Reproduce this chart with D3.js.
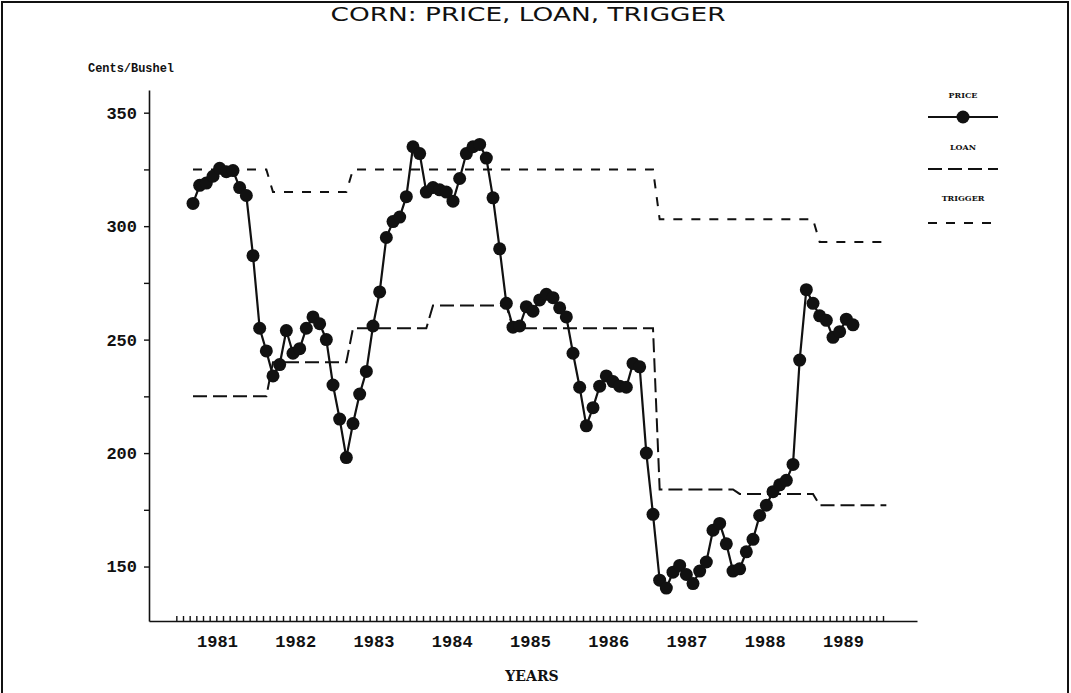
<!DOCTYPE html>
<html>
<head>
<meta charset="utf-8">
<script src="https://cdn.jsdelivr.net/npm/d3@7"></script>
<style>
  body { margin: 0; background: #fff; }
  svg { display: block; }
</style>
</head>
<body>
<div id="chart"></div>
<script>
// monthly corn price, cents/bushel, first value is Nov 1980 (month -2 from Jan 1981)
var priceStart = -2;
var price = [310, 318, 319, 322, 325.5, 324, 324.5, 317, 313.5, 287,
             255, 245, 234, 239, 254, 244, 246, 255, 260, 257,
             250, 230, 215, 198, 213, 226, 236, 256, 271, 295,
             302, 304, 313, 335, 332, 315, 317, 316, 315, 311,
             321, 332, 335, 336, 330, 312.5, 290, 266, 255.5, 256,
             264.5, 262.5, 267.5, 270, 268.5, 264, 260, 244, 229, 212,
             220, 229.5, 234, 231.5, 229.5, 229, 239.5, 238, 200, 173,
             144, 140.5, 147.5, 150.5, 146.5, 142.5, 148, 152, 166, 169,
             160, 148, 149, 156.5, 162, 172.5, 177, 183, 186, 188,
             195, 241, 272, 266, 260.5, 258.5, 251, 253.5, 259, 256.5];

// loan rate steps (month the level starts, level)
var loanFrom = [-2, 10, 22, 34, 46, 68, 80, 92];
var loanLevel = [225, 240, 255, 265, 255, 184, 182, 177];

// trigger price steps
var triggerFrom = [-2, 10, 22, 68, 92];
var triggerLevel = [325, 315, 325, 303, 293];

var lastMonth = 102;

var years = [1981, 1982, 1983, 1984, 1985, 1986, 1987, 1988, 1989];
var yTicks = [150, 175, 200, 225, 250, 275, 300, 325, 350];

var svgWidth = 1071;
var svgHeight = 693;

var svg = d3.select("#chart")
  .append("svg")
  .attr("width", svgWidth)
  .attr("height", svgHeight);

// scanned page border
svg.append("rect")
  .attr("x", 2)
  .attr("y", 2)
  .attr("width", 1066)
  .attr("height", 720)
  .attr("fill", "none")
  .attr("stroke", "#111")
  .attr("stroke-width", 2);

// scales
var xScale = d3.scaleLinear()
  .domain([-8.6, 106.6])
  .range([149, 917]);

var yScale = d3.scaleLinear()
  .domain([126, 360])
  .range([621, 90]);

// year labels sit on their own scale (the printer spaced them a bit tighter)
var yearScale = d3.scaleLinear()
  .domain([1981, 1989])
  .range([xScale(1.6), xScale(95.5)]);

// title
svg.append("text")
  .attr("x", 528)
  .attr("y", 21)
  .attr("text-anchor", "middle")
  .attr("font-family", "DejaVu Sans")
  .attr("font-size", "20px")
  .attr("textLength", 395)
  .attr("lengthAdjust", "spacingAndGlyphs")
  .attr("fill", "#111")
  .text("CORN: PRICE, LOAN, TRIGGER");

svg.append("text")
  .attr("x", 88)
  .attr("y", 72)
  .attr("font-family", "Liberation Mono")
  .attr("font-weight", "bold")
  .attr("font-size", "13px")
  .attr("textLength", 86)
  .attr("lengthAdjust", "spacingAndGlyphs")
  .attr("fill", "#111")
  .text("Cents/Bushel");

// y axis
var leftAxis = d3.axisLeft(yScale)
  .tickValues(yTicks)
  .tickSize(5)
  .tickSizeOuter(0)
  .tickPadding(7)
  .tickFormat(d => d % 50 === 0 ? d : "");

var yAxisG = svg.append("g")
  .attr("transform", "translate(149, 0)")
  .call(leftAxis);

yAxisG.selectAll("text")
  .attr("font-family", "Liberation Mono")
  .attr("font-weight", "bold")
  .attr("font-size", "17px")
  .attr("fill", "#111");

// x axis with monthly ticks pointing up
var monthTicks = d3.range(-4.5, 102, 1);
var bottomAxis = d3.axisBottom(xScale)
  .tickValues(monthTicks)
  .tickSize(-5)
  .tickSizeOuter(0)
  .tickFormat("");

svg.append("g")
  .attr("transform", `translate(0, ${yScale(126)})`)
  .call(bottomAxis);

svg.selectAll(".domain").attr("stroke", "#111").attr("stroke-width", 1.6);
svg.selectAll(".tick line").attr("stroke", "#111").attr("stroke-width", 1.4);

// year labels
var yearAxis = d3.axisBottom(yearScale)
  .tickValues(years)
  .tickSize(0)
  .tickPadding(14)
  .tickFormat(d3.format("d"));

var yearG = svg.append("g")
  .attr("transform", `translate(0, ${yScale(126)})`)
  .call(yearAxis);

yearG.select(".domain").remove();
yearG.selectAll("text")
  .attr("font-family", "Liberation Mono")
  .attr("font-weight", "bold")
  .attr("font-size", "17px")
  .attr("fill", "#111");

svg.append("text")
  .attr("x", 532)
  .attr("y", 681)
  .attr("text-anchor", "middle")
  .attr("font-family", "DejaVu Serif")
  .attr("font-weight", "bold")
  .attr("font-size", "14px")
  .attr("fill", "#111")
  .text("YEARS");

// step series -> corner points
function stepPoints(from, level) {
  var pts = [];
  for (var i = 0; i < from.length; i++) {
    var end = i < from.length - 1 ? from[i + 1] - 1 : lastMonth;
    pts.push([from[i], level[i]]);
    pts.push([end, level[i]]);
  }
  return pts;
}

var lineGen = d3.line()
  .x(d => xScale(d[0]))
  .y(d => yScale(d[1]));

svg.append("path")
  .datum(stepPoints(triggerFrom, triggerLevel))
  .attr("d", lineGen)
  .attr("fill", "none")
  .attr("stroke", "#111")
  .attr("stroke-width", 2)
  .attr("stroke-dasharray", "9,9");

svg.append("path")
  .datum(stepPoints(loanFrom, loanLevel))
  .attr("d", lineGen)
  .attr("fill", "none")
  .attr("stroke", "#111")
  .attr("stroke-width", 2)
  .attr("stroke-dasharray", "14,6");

// price line + markers
var priceData = price.map((v, i) => [priceStart + i, v]);

svg.append("path")
  .datum(priceData)
  .attr("d", lineGen)
  .attr("fill", "none")
  .attr("stroke", "#111")
  .attr("stroke-width", 2.2);

svg.selectAll(".pt")
  .data(priceData)
  .enter()
  .append("circle")
  .attr("class", "pt")
  .attr("cx", d => xScale(d[0]))
  .attr("cy", d => yScale(d[1]))
  .attr("r", 6.5)
  .attr("fill", "#111");

// legend
var legend = svg.append("g").attr("transform", "translate(963, 0)");

var legendItems = [
  {name: "PRICE", ty: 98, ly: 117, dash: null},
  {name: "LOAN", ty: 150, ly: 169, dash: "14,6"},
  {name: "TRIGGER", ty: 201, ly: 223, dash: "9,9"}
];

legendItems.forEach(function(item) {
  legend.append("text")
    .attr("x", 0)
    .attr("y", item.ty)
    .attr("text-anchor", "middle")
    .attr("font-family", "DejaVu Serif")
    .attr("font-weight", "bold")
    .attr("font-size", "8px")
    .attr("fill", "#111")
    .text(item.name);

  legend.append("line")
    .attr("x1", -35)
    .attr("x2", 35)
    .attr("y1", item.ly)
    .attr("y2", item.ly)
    .attr("stroke", "#111")
    .attr("stroke-width", 2)
    .attr("stroke-dasharray", item.dash);
});

legend.append("circle")
  .attr("cx", 0)
  .attr("cy", 117)
  .attr("r", 6.5)
  .attr("fill", "#111");
</script>
</body>
</html>
